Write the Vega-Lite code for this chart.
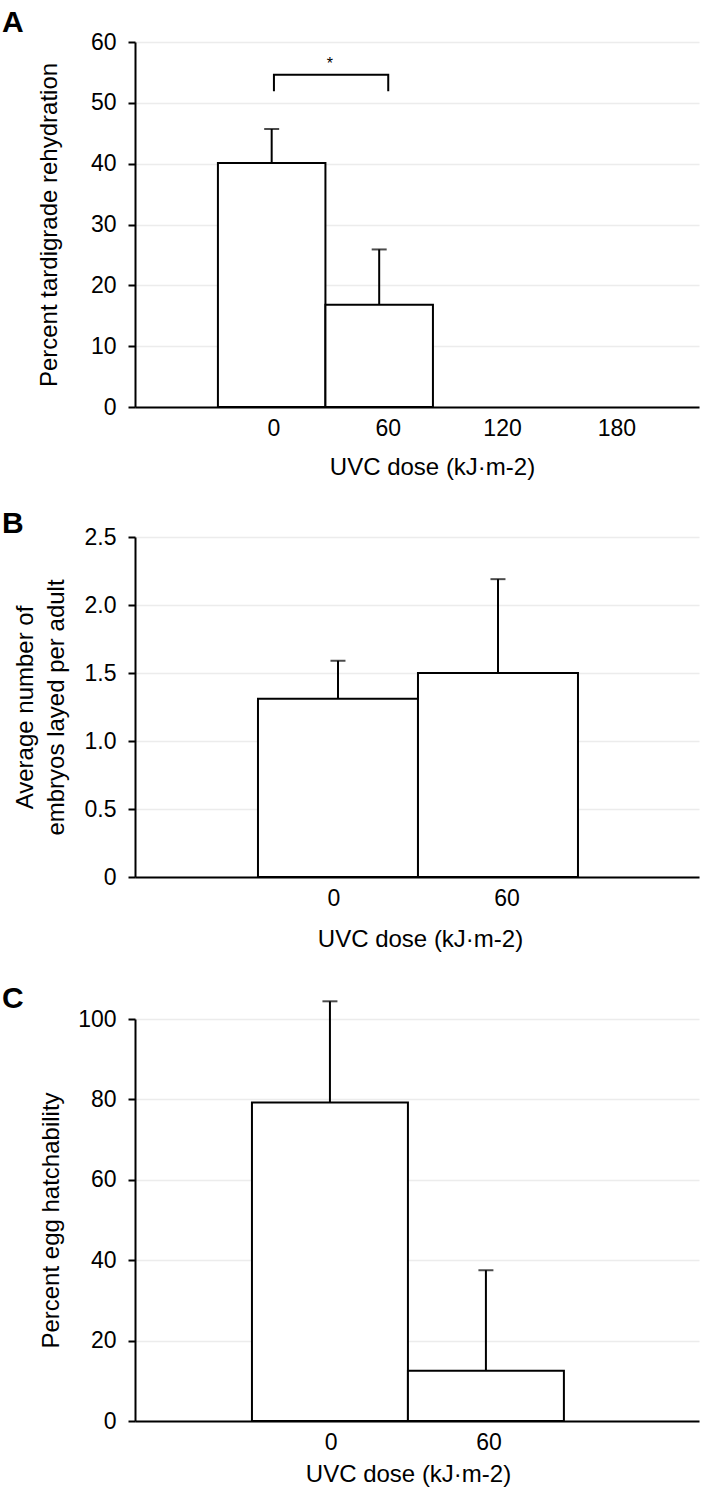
{
  "$schema": "https://vega.github.io/schema/vega-lite/v6.json",
  "autosize": {"type": "pad"},
  "padding": {"left": 2, "top": 8, "right": 2, "bottom": 10},
  "background": "white",
  "bounds": "flush",
  "spacing": 130,
  "config": {
    "font": "Liberation Sans",
    "view": {"stroke": null},
    "axis": {
      "labelFont": "Liberation Sans", "titleFont": "Liberation Sans",
      "labelColor": "#000", "titleColor": "#000", "titleFontWeight": "normal",
      "domainColor": "#000", "tickColor": "#000", "domainWidth": 2, "tickWidth": 2,
      "labelFontSize": 23, "titleFontSize": 24,
      "gridColor": "#ececec", "gridWidth": 1.5
    },
    "title": {"font": "Liberation Sans", "fontSize": 30, "fontWeight": "bold", "color": "#000", "anchor": "start", "frame": "group", "baseline": "bottom"}
  },
  "vconcat": [
    {
      "width": 564, "height": 365,
      "title": {"text": "A", "dx": -133, "offset": -7},
      "resolve": {"scale": {"x": "independent"}, "axis": {"x": "independent"}},
      "layer": [
        {
          "data": {"values": [{"dose": "0", "pct": 40.1, "upper": 45.7}, {"dose": "60", "pct": 16.8, "upper": 25.9}]},
          "layer": [
            {
              "mark": {"type": "bar", "fill": "white", "stroke": "black", "strokeWidth": 2},
              "encoding": {
                "x": {"field": "dose", "type": "nominal", "scale": {"type": "band", "domain": ["0", "60", "120", "180"], "paddingInner": 0, "paddingOuter": 0.623, "align": 0.619}, "axis": null},
                "y": {"field": "pct", "type": "quantitative", "scale": {"domain": [0, 60], "nice": false},
                  "axis": {"values": [0, 10, 20, 30, 40, 50, 60], "title": "Percent tardigrade rehydration", "titleX": -86, "titleY": 182.5, "titleAngle": 270, "titleAlign": "center", "titleBaseline": "middle", "grid": true, "tickSize": 7, "labelPadding": 12}}
              }
            },
            {
              "mark": {"type": "rule", "color": "black", "strokeWidth": 2, "clip": false},
              "encoding": {"x": {"field": "dose", "type": "nominal"}, "y": {"field": "pct", "type": "quantitative"}, "y2": {"field": "upper"}}
            },
            {
              "mark": {"type": "tick", "color": "black", "thickness": 2, "size": 15, "clip": false},
              "encoding": {"x": {"field": "dose", "type": "nominal"}, "y": {"field": "upper", "type": "quantitative"}}
            }
          ]
        },
        {
          "layer": [
            {
              "data": {"values": [{"dose": "0", "by": 51.9, "o": 1}, {"dose": "0", "by": 54.6, "o": 2}, {"dose": "60", "by": 54.6, "o": 3}, {"dose": "60", "by": 51.9, "o": 4}]},
              "mark": {"type": "line", "color": "black", "strokeWidth": 2},
              "encoding": {
                "x": {"field": "dose", "type": "nominal", "scale": {"type": "band", "domain": ["0", "60", "120", "180"], "paddingInner": 0, "paddingOuter": 0.467, "align": 0.766},
                  "axis": {"title": "UVC dose (kJ·m-2)", "orient": "bottom", "ticks": false, "tickSize": 0, "labelPadding": 10, "labelAngle": 0, "grid": false, "titleX": 297, "titleY": 67, "titleAlign": "center", "titleBaseline": "alphabetic"}},
                "y": {"field": "by", "type": "quantitative"},
                "order": {"field": "o", "type": "quantitative"}
              }
            },
            {
              "data": {"values": [{"dose": "0", "sy": 55.6, "sig": "*"}]},
              "mark": {"type": "text", "fontSize": 16, "dx": 56, "baseline": "alphabetic", "align": "center", "color": "black"},
              "encoding": {"x": {"field": "dose", "type": "nominal"}, "y": {"field": "sy", "type": "quantitative"}, "text": {"field": "sig"}}
            }
          ]
        }
      ]
    },
    {
      "width": 564, "height": 352,
      "title": {"text": "B", "dx": -133, "offset": -13},
      "resolve": {"scale": {"x": "independent"}, "axis": {"x": "independent"}},
      "data": {"values": [{"dose": "0", "avg": 1.31, "upper": 1.59}, {"dose": "60", "avg": 1.5, "upper": 2.19}]},
      "layer": [
        {
          "layer": [
            {
              "mark": {"type": "bar", "fill": "white", "stroke": "black", "strokeWidth": 2},
              "encoding": {
                "x": {"field": "dose", "type": "nominal", "scale": {"type": "band", "domain": ["0", "60"], "paddingInner": 0, "paddingOuter": 0.7625, "align": 0.504}, "axis": null},
                "y": {"field": "avg", "type": "quantitative", "scale": {"domain": [0, 2.5], "nice": false, "range": [340, 0]},
                  "axis": {"values": [0, 0.5, 1, 1.5, 2, 2.5], "labelExpr": "datum.value == 0 ? '0' : format(datum.value, '.1f')", "title": ["Average number of", "embryos layed per adult"], "titleLineHeight": 31, "titleX": -110, "titleY": 170, "titleAngle": 270, "titleAlign": "center", "titleBaseline": "middle", "grid": true, "tickSize": 7, "labelPadding": 12}}
              }
            },
            {
              "mark": {"type": "rule", "color": "black", "strokeWidth": 2, "clip": false},
              "encoding": {"x": {"field": "dose", "type": "nominal"}, "y": {"field": "avg", "type": "quantitative"}, "y2": {"field": "upper"}}
            },
            {
              "mark": {"type": "tick", "color": "black", "thickness": 2, "size": 15, "clip": false},
              "encoding": {"x": {"field": "dose", "type": "nominal"}, "y": {"field": "upper", "type": "quantitative"}}
            }
          ]
        },
        {
          "mark": {"type": "point", "opacity": 0},
          "encoding": {
            "x": {"field": "dose", "type": "nominal", "scale": {"type": "band", "domain": ["0", "60"], "paddingInner": 0, "paddingOuter": 0.63, "align": 0.516},
              "axis": {"title": "UVC dose (kJ·m-2)", "orient": "bottom", "offset": -12, "ticks": false, "tickSize": 0, "labelPadding": 10, "labelAngle": 0, "grid": false, "titleX": 285, "titleY": 69, "titleAlign": "center", "titleBaseline": "alphabetic"}},
            "y": {"field": "avg", "type": "quantitative"}
          }
        }
      ]
    },
    {
      "width": 564, "height": 402,
      "title": {"text": "C", "dx": -133, "offset": -14},
      "resolve": {"scale": {"x": "independent"}, "axis": {"x": "independent"}},
      "data": {"values": [{"dose": "0", "pct": 79.2, "upper": 104.4}, {"dose": "60", "pct": 12.5, "upper": 37.5}]},
      "layer": [
        {
          "layer": [
            {
              "mark": {"type": "bar", "fill": "white", "stroke": "black", "strokeWidth": 2},
              "encoding": {
                "x": {"field": "dose", "type": "nominal", "scale": {"type": "band", "domain": ["0", "60"], "paddingInner": 0, "paddingOuter": 0.808, "align": 0.464}, "axis": null},
                "y": {"field": "pct", "type": "quantitative", "scale": {"domain": [0, 100], "nice": false},
                  "axis": {"values": [0, 20, 40, 60, 80, 100], "title": "Percent egg hatchability", "titleX": -84, "titleY": 201, "titleAngle": 270, "titleAlign": "center", "titleBaseline": "middle", "grid": true, "tickSize": 7, "labelPadding": 12}}
              }
            },
            {
              "mark": {"type": "rule", "color": "black", "strokeWidth": 2, "clip": false},
              "encoding": {"x": {"field": "dose", "type": "nominal"}, "y": {"field": "pct", "type": "quantitative"}, "y2": {"field": "upper"}}
            },
            {
              "mark": {"type": "tick", "color": "black", "thickness": 2, "size": 15, "clip": false},
              "encoding": {"x": {"field": "dose", "type": "nominal"}, "y": {"field": "upper", "type": "quantitative"}}
            }
          ]
        },
        {
          "mark": {"type": "point", "opacity": 0},
          "encoding": {
            "x": {"field": "dose", "type": "nominal", "scale": {"type": "band", "domain": ["0", "60"], "paddingInner": 0, "paddingOuter": 0.785, "align": 0.472},
              "axis": {"title": "UVC dose (kJ·m-2)", "orient": "bottom", "ticks": false, "tickSize": 0, "labelPadding": 10, "labelAngle": 0, "grid": false, "titleX": 273, "titleY": 60, "titleAlign": "center", "titleBaseline": "alphabetic"}},
            "y": {"field": "pct", "type": "quantitative"}
          }
        }
      ]
    }
  ]
}
